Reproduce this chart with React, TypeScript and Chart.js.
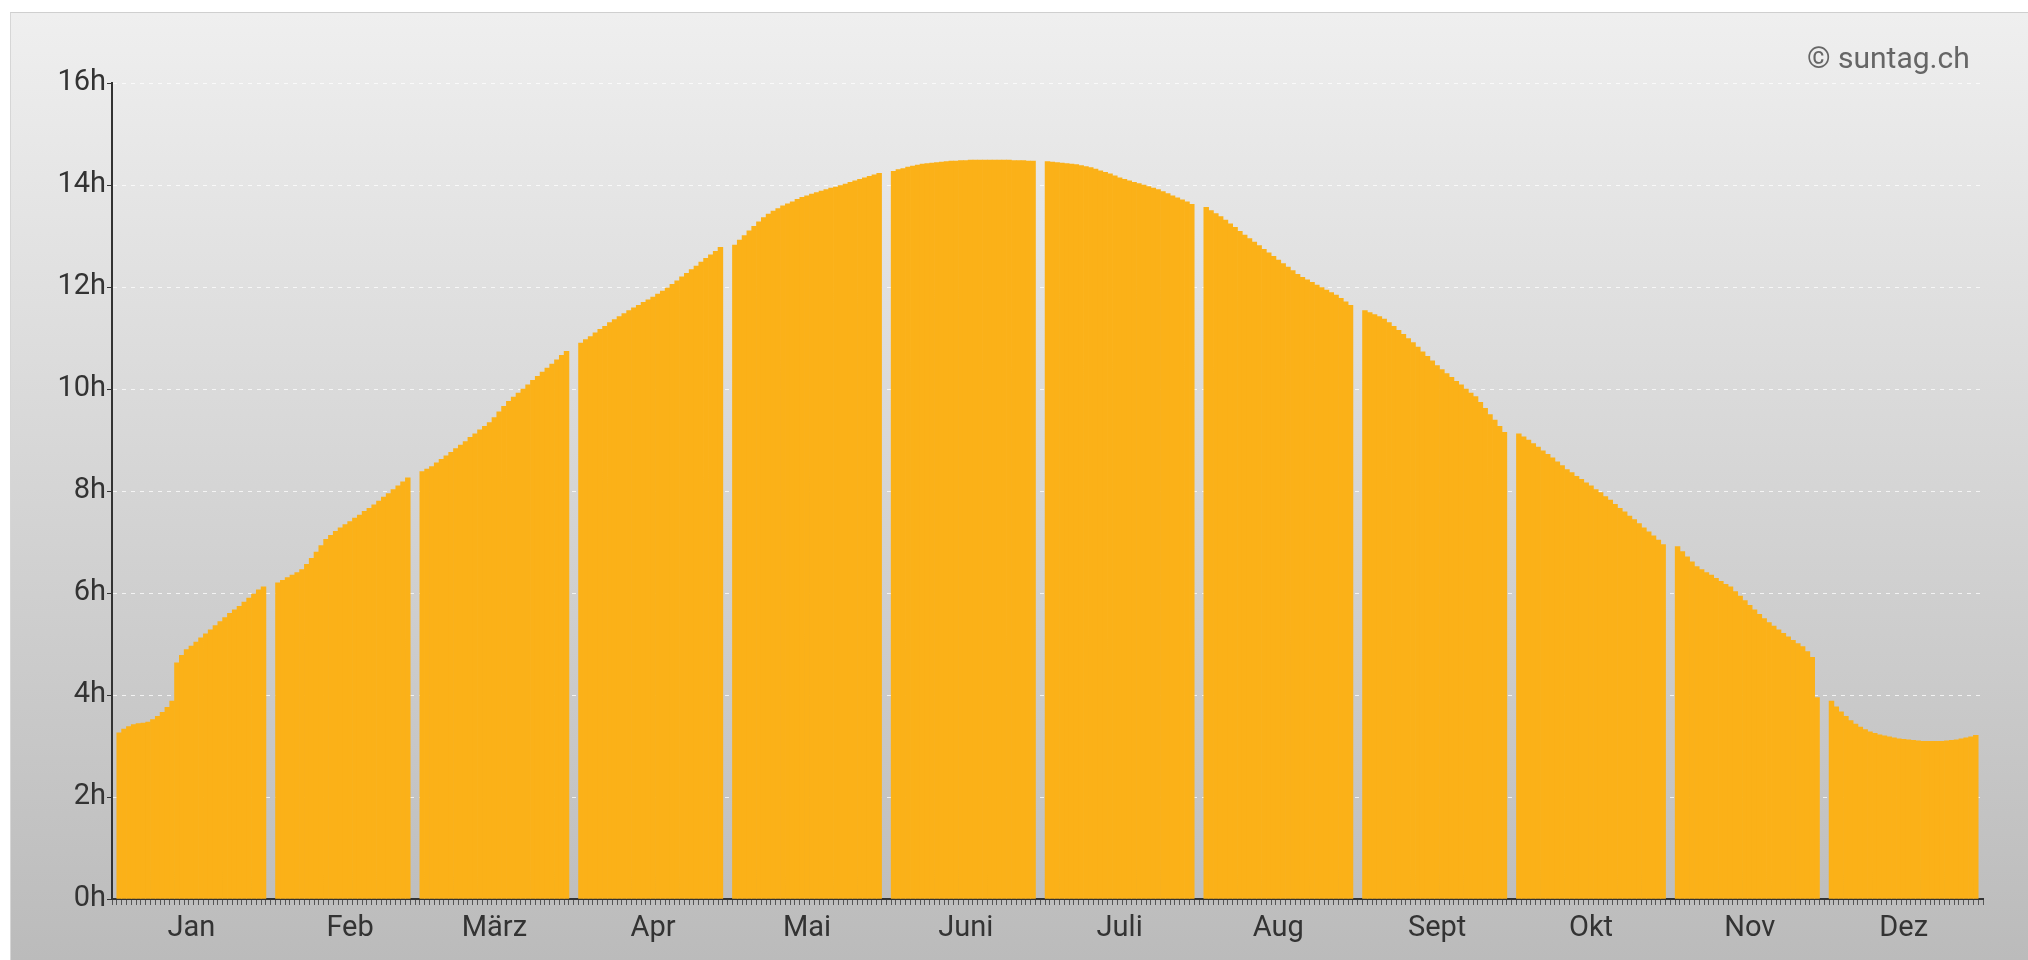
import React, { useEffect, useRef } from 'react';
import { Chart, registerables } from 'chart.js';

Chart.register(...registerables);

const MONTHS = ['Jan', 'Feb', 'März', 'Apr', 'Mai', 'Juni', 'Juli', 'Aug', 'Sept', 'Okt', 'Nov', 'Dez'];

const JAN = [3.26, 3.33, 3.38, 3.42, 3.44, 3.45, 3.47, 3.52, 3.58, 3.66, 3.76, 3.88, 4.63, 4.78, 4.89, 4.96, 5.04, 5.12, 5.2, 5.28, 5.36, 5.44, 5.52, 5.6, 5.67, 5.74, 5.82, 5.9, 5.98, 6.06, 6.12];
const FEB = [6.2, 6.25, 6.3, 6.35, 6.4, 6.46, 6.56, 6.68, 6.8, 6.93, 7.05, 7.13, 7.21, 7.28, 7.34, 7.4, 7.47, 7.53, 7.6, 7.66, 7.73, 7.8, 7.88, 7.95, 8.03, 8.1, 8.18, 8.26];
const MAR = [8.38, 8.43, 8.48, 8.55, 8.62, 8.69, 8.76, 8.83, 8.9, 8.97, 9.05, 9.12, 9.2, 9.27, 9.34, 9.44, 9.55, 9.66, 9.76, 9.84, 9.92, 10.0, 10.08, 10.17, 10.25, 10.33, 10.41, 10.49, 10.57, 10.66, 10.74];
const APR = [10.9, 10.97, 11.03, 11.1, 11.17, 11.23, 11.3, 11.36, 11.42, 11.48, 11.54, 11.59, 11.64, 11.7, 11.75, 11.8, 11.86, 11.92, 11.98, 12.05, 12.12, 12.2, 12.27, 12.34, 12.41, 12.49, 12.56, 12.63, 12.7, 12.78];
const MAY = [12.82, 12.92, 13.01, 13.1, 13.19, 13.28, 13.36, 13.43, 13.49, 13.54, 13.59, 13.63, 13.67, 13.72, 13.76, 13.79, 13.82, 13.85, 13.88, 13.91, 13.94, 13.96, 13.99, 14.02, 14.05, 14.08, 14.11, 14.14, 14.17, 14.2, 14.23];
const JUN = [14.27, 14.3, 14.32, 14.35, 14.37, 14.39, 14.41, 14.42, 14.43, 14.44, 14.45, 14.46, 14.47, 14.47, 14.48, 14.48, 14.49, 14.49, 14.49, 14.49, 14.49, 14.49, 14.49, 14.49, 14.49, 14.48, 14.48, 14.48, 14.47, 14.47];
const JUL = [14.46, 14.45, 14.44, 14.43, 14.42, 14.41, 14.4, 14.38, 14.36, 14.34, 14.31, 14.28, 14.25, 14.22, 14.18, 14.14, 14.11, 14.08, 14.05, 14.03, 14.0, 13.97, 13.94, 13.91, 13.87, 13.83, 13.79, 13.75, 13.71, 13.67, 13.62];
const AUG = [13.56, 13.5, 13.44, 13.38, 13.31, 13.24, 13.17, 13.09, 13.02, 12.95, 12.88, 12.81, 12.74, 12.67, 12.6, 12.53, 12.46, 12.39, 12.32, 12.25, 12.19, 12.14, 12.09, 12.04, 11.99, 11.94, 11.89, 11.84, 11.78, 11.71, 11.64];
const SEP = [11.54, 11.5, 11.46, 11.42, 11.37, 11.3, 11.23, 11.15, 11.07, 10.99, 10.91, 10.82, 10.73, 10.64, 10.55, 10.46, 10.38, 10.3, 10.23, 10.15, 10.08, 10.0, 9.92, 9.85, 9.74, 9.62, 9.5, 9.39, 9.27, 9.15];
const OCT = [9.12, 9.06, 9.0, 8.93, 8.86, 8.79, 8.72, 8.65, 8.57, 8.5, 8.42, 8.36, 8.29, 8.23, 8.16, 8.1, 8.03, 7.97, 7.89, 7.82, 7.74, 7.66, 7.59, 7.51, 7.44, 7.36, 7.28, 7.2, 7.12, 7.04, 6.95];
const NOV = [6.91, 6.81, 6.71, 6.61, 6.52, 6.46, 6.4, 6.35, 6.29, 6.23, 6.17, 6.12, 6.03, 5.94, 5.85, 5.76, 5.67, 5.58, 5.5, 5.42, 5.35, 5.28, 5.21, 5.14, 5.07, 5.01, 4.95, 4.85, 4.74, 3.95];
const DEC = [3.88, 3.77, 3.67, 3.58, 3.5, 3.43, 3.37, 3.32, 3.28, 3.25, 3.22, 3.2, 3.18, 3.16, 3.14, 3.13, 3.12, 3.11, 3.1, 3.09, 3.09, 3.09, 3.09, 3.09, 3.1, 3.11, 3.12, 3.14, 3.16, 3.18, 3.21];

const MONTH_VALUES = [JAN, FEB, MAR, APR, MAY, JUN, JUL, AUG, SEP, OCT, NOV, DEC];
const Y_TICKS = [0, 2, 4, 6, 8, 10, 12, 14, 16];
const LABEL_DAY_INDEX = 15;

const FONT_FAMILY = 'Roboto, "Noto Sans", sans-serif';

export default function App() {
  const ref = useRef<HTMLCanvasElement>(null);

  useEffect(() => {
    document.body.style.overflow = 'hidden';
    const labels: string[] = [''];
    const data: (number | null)[] = [null];
    MONTH_VALUES.forEach((vals, m) => {
      if (m > 0) {
        labels.push('', '');
        data.push(null, null);
      }
      vals.forEach((v, d) => {
        labels.push(d === LABEL_DAY_INDEX ? MONTHS[m] : '');
        data.push(v);
      });
    });
    labels.push('');
    data.push(null);

    const chart = new Chart(ref.current!, {
      type: 'bar',
      data: {
        labels,
        datasets: [
          {
            data,
            backgroundColor: '#fbb118',
            borderWidth: 0,
            barPercentage: 1,
            categoryPercentage: 1,
          },
        ],
      },
      options: {
        responsive: false,
        animation: false,
        layout: { padding: { left: 0, top: 70, right: 45, bottom: 0 } },
        plugins: { legend: { display: false }, tooltip: { enabled: false } },
        scales: {
          x: {
            grid: {
              display: true,
              drawOnChartArea: false,
              tickLength: 6,
              tickColor: '#555',
              tickWidth: 1,
            },
            border: { display: true, color: '#333', width: 2 },
            ticks: {
              autoSkip: false,
              maxRotation: 0,
              minRotation: 0,
              padding: 6,
              color: '#333',
              font: { family: FONT_FAMILY, size: 29 },
              callback: (_v: any, i: number) => labels[i],
            },
            afterFit: (s: any) => {
              s.height = 61;
            },
          },
          y: {
            min: 0,
            max: 16,
            afterBuildTicks: (s: any) => {
              s.ticks = Y_TICKS.map((v) => ({ value: v }));
            },
            grid: {
              color: 'rgba(255,255,255,0.75)',
              lineWidth: 1,
              tickLength: 5,
              tickColor: '#333',
              tickBorderDash: [],
            },
            border: { display: true, color: '#333', width: 2, dash: [4, 5] },
            ticks: {
              padding: 1,
              color: '#333',
              font: { family: FONT_FAMILY, size: 29 },
              callback: (v: any) => v + 'h',
            },
            afterFit: (s: any) => {
              s.width = 101;
            },
          },
        },
      },
    });
    return () => chart.destroy();
  }, []);

  return (
    <div
      style={{
        position: 'absolute',
        left: 10,
        top: 12,
        width: 2018,
        height: 948,
        boxSizing: 'border-box',
        borderTop: '1px solid #cfcfcf',
        borderLeft: '1px solid #d6d6d6',
        background: 'linear-gradient(#efefef, #bbbbbb)',
      }}
    >
      <canvas ref={ref} width={2017} height={947} style={{ position: 'absolute', left: 0, top: 0 }} />
      <div
        style={{
          position: 'absolute',
          left: 1796,
          top: 27,
          fontFamily: FONT_FAMILY,
          fontSize: 30,
          lineHeight: '35px',
          color: '#666',
          whiteSpace: 'nowrap',
        }}
      >
        © suntag.ch
      </div>
    </div>
  );
}
